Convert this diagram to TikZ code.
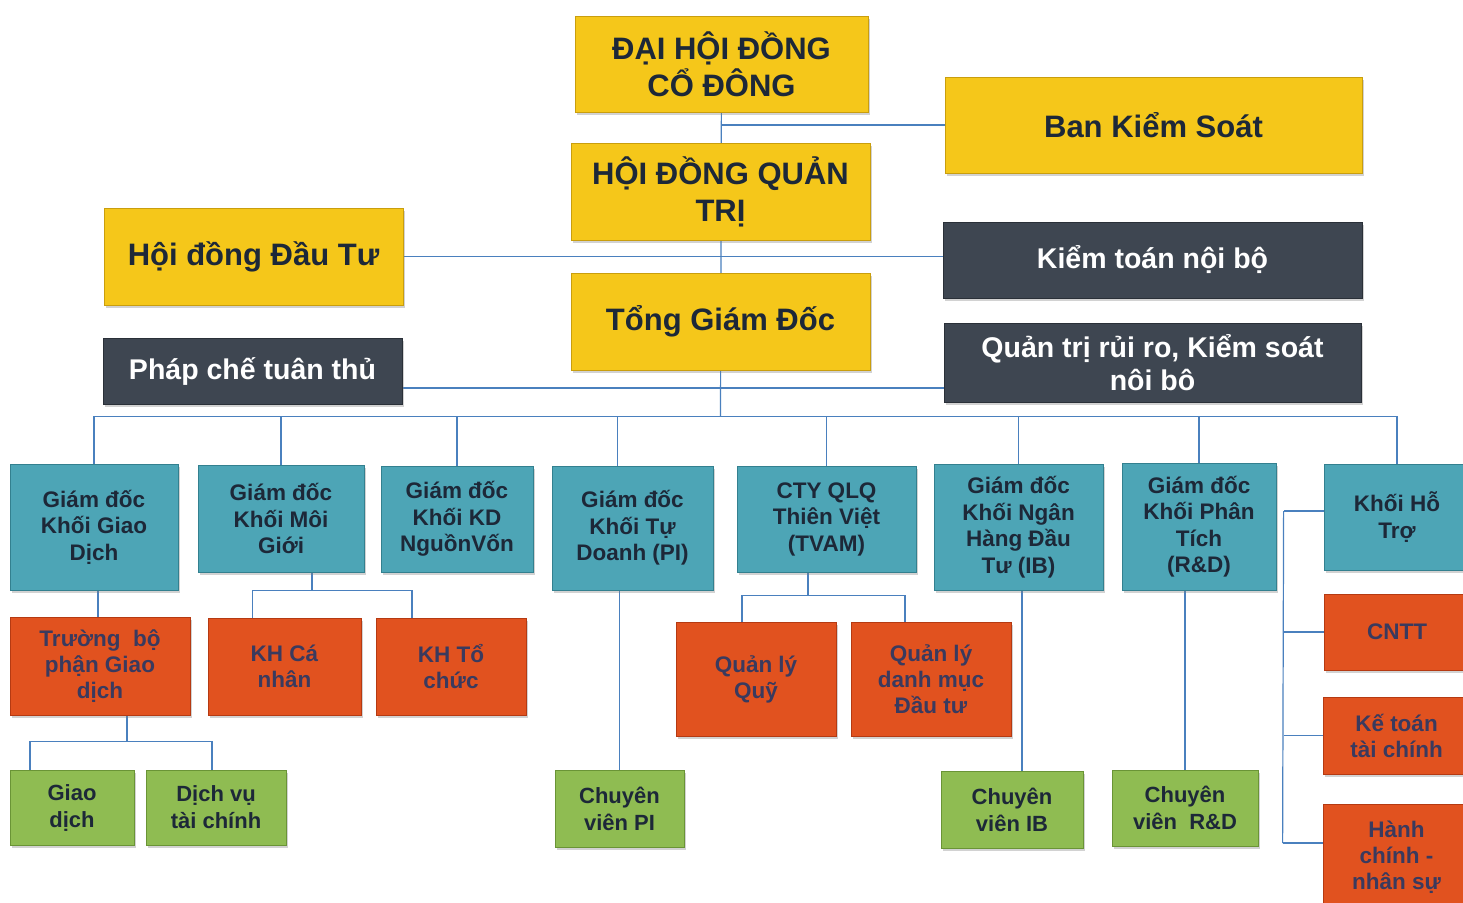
\documentclass[tikz,border=0pt]{standalone}
\usepackage{fontspec}
\setmainfont{Liberation Sans}
\usetikzlibrary{shadows,backgrounds}
\definecolor{cYel}{HTML}{F5C71A}
\definecolor{cYelD}{HTML}{C99E0E}
\definecolor{cDark}{HTML}{3E4651}
\definecolor{cDarkD}{HTML}{2A3038}
\definecolor{cTeal}{HTML}{4DA5B6}
\definecolor{cTealD}{HTML}{33808F}
\definecolor{cOra}{HTML}{E1521F}
\definecolor{cOraD}{HTML}{B53A12}
\definecolor{cGrn}{HTML}{8FBC52}
\definecolor{cGrnD}{HTML}{6A9436}
\definecolor{cTxt}{HTML}{1D2838}
\definecolor{cOTxt}{HTML}{3A3A5E}
\definecolor{cLine}{HTML}{4A80BE}
\begin{document}
\begin{tikzpicture}[x=1pt,y=-1pt,
  bx/.style={rectangle, inner sep=0pt, align=center, line width=0.8pt,
    drop shadow={shadow xshift=1.5pt, shadow yshift=-2.5pt, opacity=0.35}},
  yb/.style={bx, fill=cYel, draw=cYelD, text=cTxt, font=\fontsize{31}{37}\selectfont\bfseries},
  db/.style={bx, fill=cDark, draw=cDarkD, text=white, font=\fontsize{28.5}{33}\selectfont\bfseries},
  tb/.style={bx, fill=cTeal, draw=cTealD, text=cTxt, font=\fontsize{22.5}{26.5}\selectfont\bfseries},
  ob/.style={bx, fill=cOra, draw=cOraD, text=cOTxt, font=\fontsize{22.5}{26}\selectfont\bfseries},
  gb/.style={bx, fill=cGrn, draw=cGrnD, text=cTxt, font=\fontsize{22}{27}\selectfont\bfseries},
  ln/.style={draw=cLine, line width=1.2pt}]
\useasboundingbox (0,0) rectangle (1463,902);
\clip (0,0) rectangle (1463,902);

% top level
\node[yb, minimum width=293pt, minimum height=96pt] (dhd) at (721.5,64) {ĐẠI HỘI ĐỒNG\\CỔ ĐÔNG};
\node[yb, minimum width=299pt, minimum height=97pt] (hdqt) at (720.5,191.5) {HỘI ĐỒNG QUẢN\\TRỊ};
\node[yb, minimum width=299pt, minimum height=97pt] (tgd) at (720.5,321.5) {Tổng Giám Đốc};
\node[yb, minimum width=417pt, minimum height=96pt] (bks) at (1153.5,125) {Ban Kiểm Soát};
\node[yb, minimum width=299pt, minimum height=97pt] (hddt) at (253.5,256.5) {Hội đồng Đầu Tư};
\node[db, minimum width=419pt, minimum height=76pt] (ktnb) at (1152.5,260) {Kiểm toán nội bộ};
\node[db, minimum width=417pt, minimum height=79pt] (qtrr) at (1152.5,362.5) {Quản trị rủi ro, Kiểm soát\\nôi bô};
\node[db, minimum width=299pt, minimum height=66pt] (pcct) at (252.5,371) {Pháp chế tuân thủ};

% second level
\node[tb, minimum width=168pt, minimum height=126pt] (t1) at (94,527) {Giám đốc\\Khối Giao\\Dịch};
\node[tb, minimum width=166pt, minimum height=107pt] (t2) at (281,518.5) {Giám đốc\\Khối Môi\\Giới};
\node[tb, minimum width=152pt, minimum height=106pt] (t3) at (457,519) {Giám đốc\\Khối KD\\NguồnVốn};
\node[tb, minimum width=161pt, minimum height=124pt] (t4) at (632.5,528) {Giám đốc\\Khối Tự\\Doanh (PI)};
\node[tb, minimum width=179pt, minimum height=106pt] (t5) at (826.5,519) {CTY QLQ\\Thiên Việt\\(TVAM)};
\node[tb, minimum width=169pt, minimum height=126pt] (t6) at (1018.5,527) {Giám đốc\\Khối Ngân\\Hàng Đầu\\Tư (IB)};
\node[tb, minimum width=154pt, minimum height=127pt] (t7) at (1199,526.5) {Giám đốc\\Khối Phân\\Tích\\(R\&D)};
\node[tb, minimum width=146pt, minimum height=106pt] (t8) at (1397,517) {Khối Hỗ\\Trợ};

% orange
\node[ob, minimum width=180pt, minimum height=98pt] (o1) at (100,666) {Trường~ bộ\\phận Giao\\dịch};
\node[ob, minimum width=153pt, minimum height=97pt] (o2) at (284.5,666.5) {KH Cá\\nhân};
\node[ob, minimum width=150pt, minimum height=97pt] (o3) at (451,666.5) {KH Tổ\\chức};
\node[ob, minimum width=160pt, minimum height=114pt] (o4) at (756,679) {Quản lý\\Quỹ};
\node[ob, minimum width=160pt, minimum height=114pt] (o5) at (931,679) {Quản lý\\danh mục\\Đầu tư};
\node[ob, minimum width=146pt, minimum height=76pt] (o6) at (1397,632) {CNTT};
\node[ob, minimum width=147pt, minimum height=77pt] (o7) at (1396.5,735.5) {Kế toán\\tài chính};
\node[ob, minimum width=147pt, minimum height=106pt] (o8) at (1396.5,857) {Hành\\chính -\\nhân sự};

% green
\node[gb, minimum width=124pt, minimum height=75pt] (g1) at (72,807.5) {Giao\\dịch};
\node[gb, minimum width=140pt, minimum height=75pt] (g2) at (216,807.5) {Dịch vụ\\tài chính};
\node[gb, minimum width=129pt, minimum height=77pt] (g3) at (619.5,808.5) {Chuyên\\viên PI};
\node[gb, minimum width=142pt, minimum height=77pt] (g4) at (1012,809.5) {Chuyên\\viên IB};
\node[gb, minimum width=146pt, minimum height=76pt] (g5) at (1185,808) {Chuyên\\viên~ R\&D};

% connectors behind the boxes
\begin{scope}[on background layer]
\fill[white] (0,0) rectangle (1463,902);
\path (tgd.south) ++(0,46) coordinate (bus);
\draw[ln] (dhd.center) -- (bus);
\draw[ln] (bks.west) -- (bks.west -| dhd.south);
\draw[ln] (hddt.east) -- (hddt.east -| ktnb.west);
\draw[ln] ([yshift=-17pt]pcct.east) -- ([yshift=-17pt]pcct.east -| qtrr.west);
\draw[ln] (t1.north |- bus) -- (t8.north |- bus);
\foreach \t in {t1,t2,t3,t5,t6,t7,t8} \draw[ln] (\t.north) -- (\t.north |- bus);
\draw[ln] ([xshift=-15pt]t4.north) -- ([xshift=-15pt]t4.north |- bus);
% t1 -> o1
\draw[ln] ([xshift=4pt]t1.south) -- ([xshift=4pt]t1.south |- o1.north);
% t2 -> o2, o3
\path ([xshift=31pt]t2.south) ++(0,18) coordinate (m2);
\draw[ln] ([xshift=31pt]t2.south) -- (m2);
\draw[ln] ([xshift=-32pt]o2.north) |- (m2) -| ([xshift=-39pt]o3.north);
% o1 -> g1, g2
\path ([xshift=27pt]o1.south) ++(0,26) coordinate (m1);
\draw[ln] ([xshift=27pt]o1.south) -- (m1);
\draw[ln] ([xshift=-42pt]g1.north) |- (m1) -| ([xshift=-4pt]g2.north);
% t4 -> g3
\draw[ln] (g3.north) -- (g3.north |- t4.south);
% t5 -> o4, o5
\path ([xshift=-18.5pt]t5.south) ++(0,23) coordinate (m5);
\draw[ln] ([xshift=-18.5pt]t5.south) -- (m5);
\draw[ln] ([xshift=-14pt]o4.north) |- (m5) -| ([xshift=-26pt]o5.north);
% t6 -> g4, t7 -> g5
\draw[ln] ([xshift=10pt]g4.north) -- ([xshift=10pt]g4.north |- t6.south);
\draw[ln] (g5.north) -- (g5.north |- t7.south);
% t8 bracket
\draw[ln] ([yshift=6pt]t8.west) -- ++(-40,0) coordinate (b1);
\draw[ln] ([yshift=14pt]o8.west) -- ++(-40,0) coordinate (b4);
\draw[ln] (b1) -- (b4);
\draw[ln] (o6.west) -- (o6.west -| b1);
\draw[ln] (o7.west) -- (o7.west -| b1);
\end{scope}
\end{tikzpicture}
\end{document}
